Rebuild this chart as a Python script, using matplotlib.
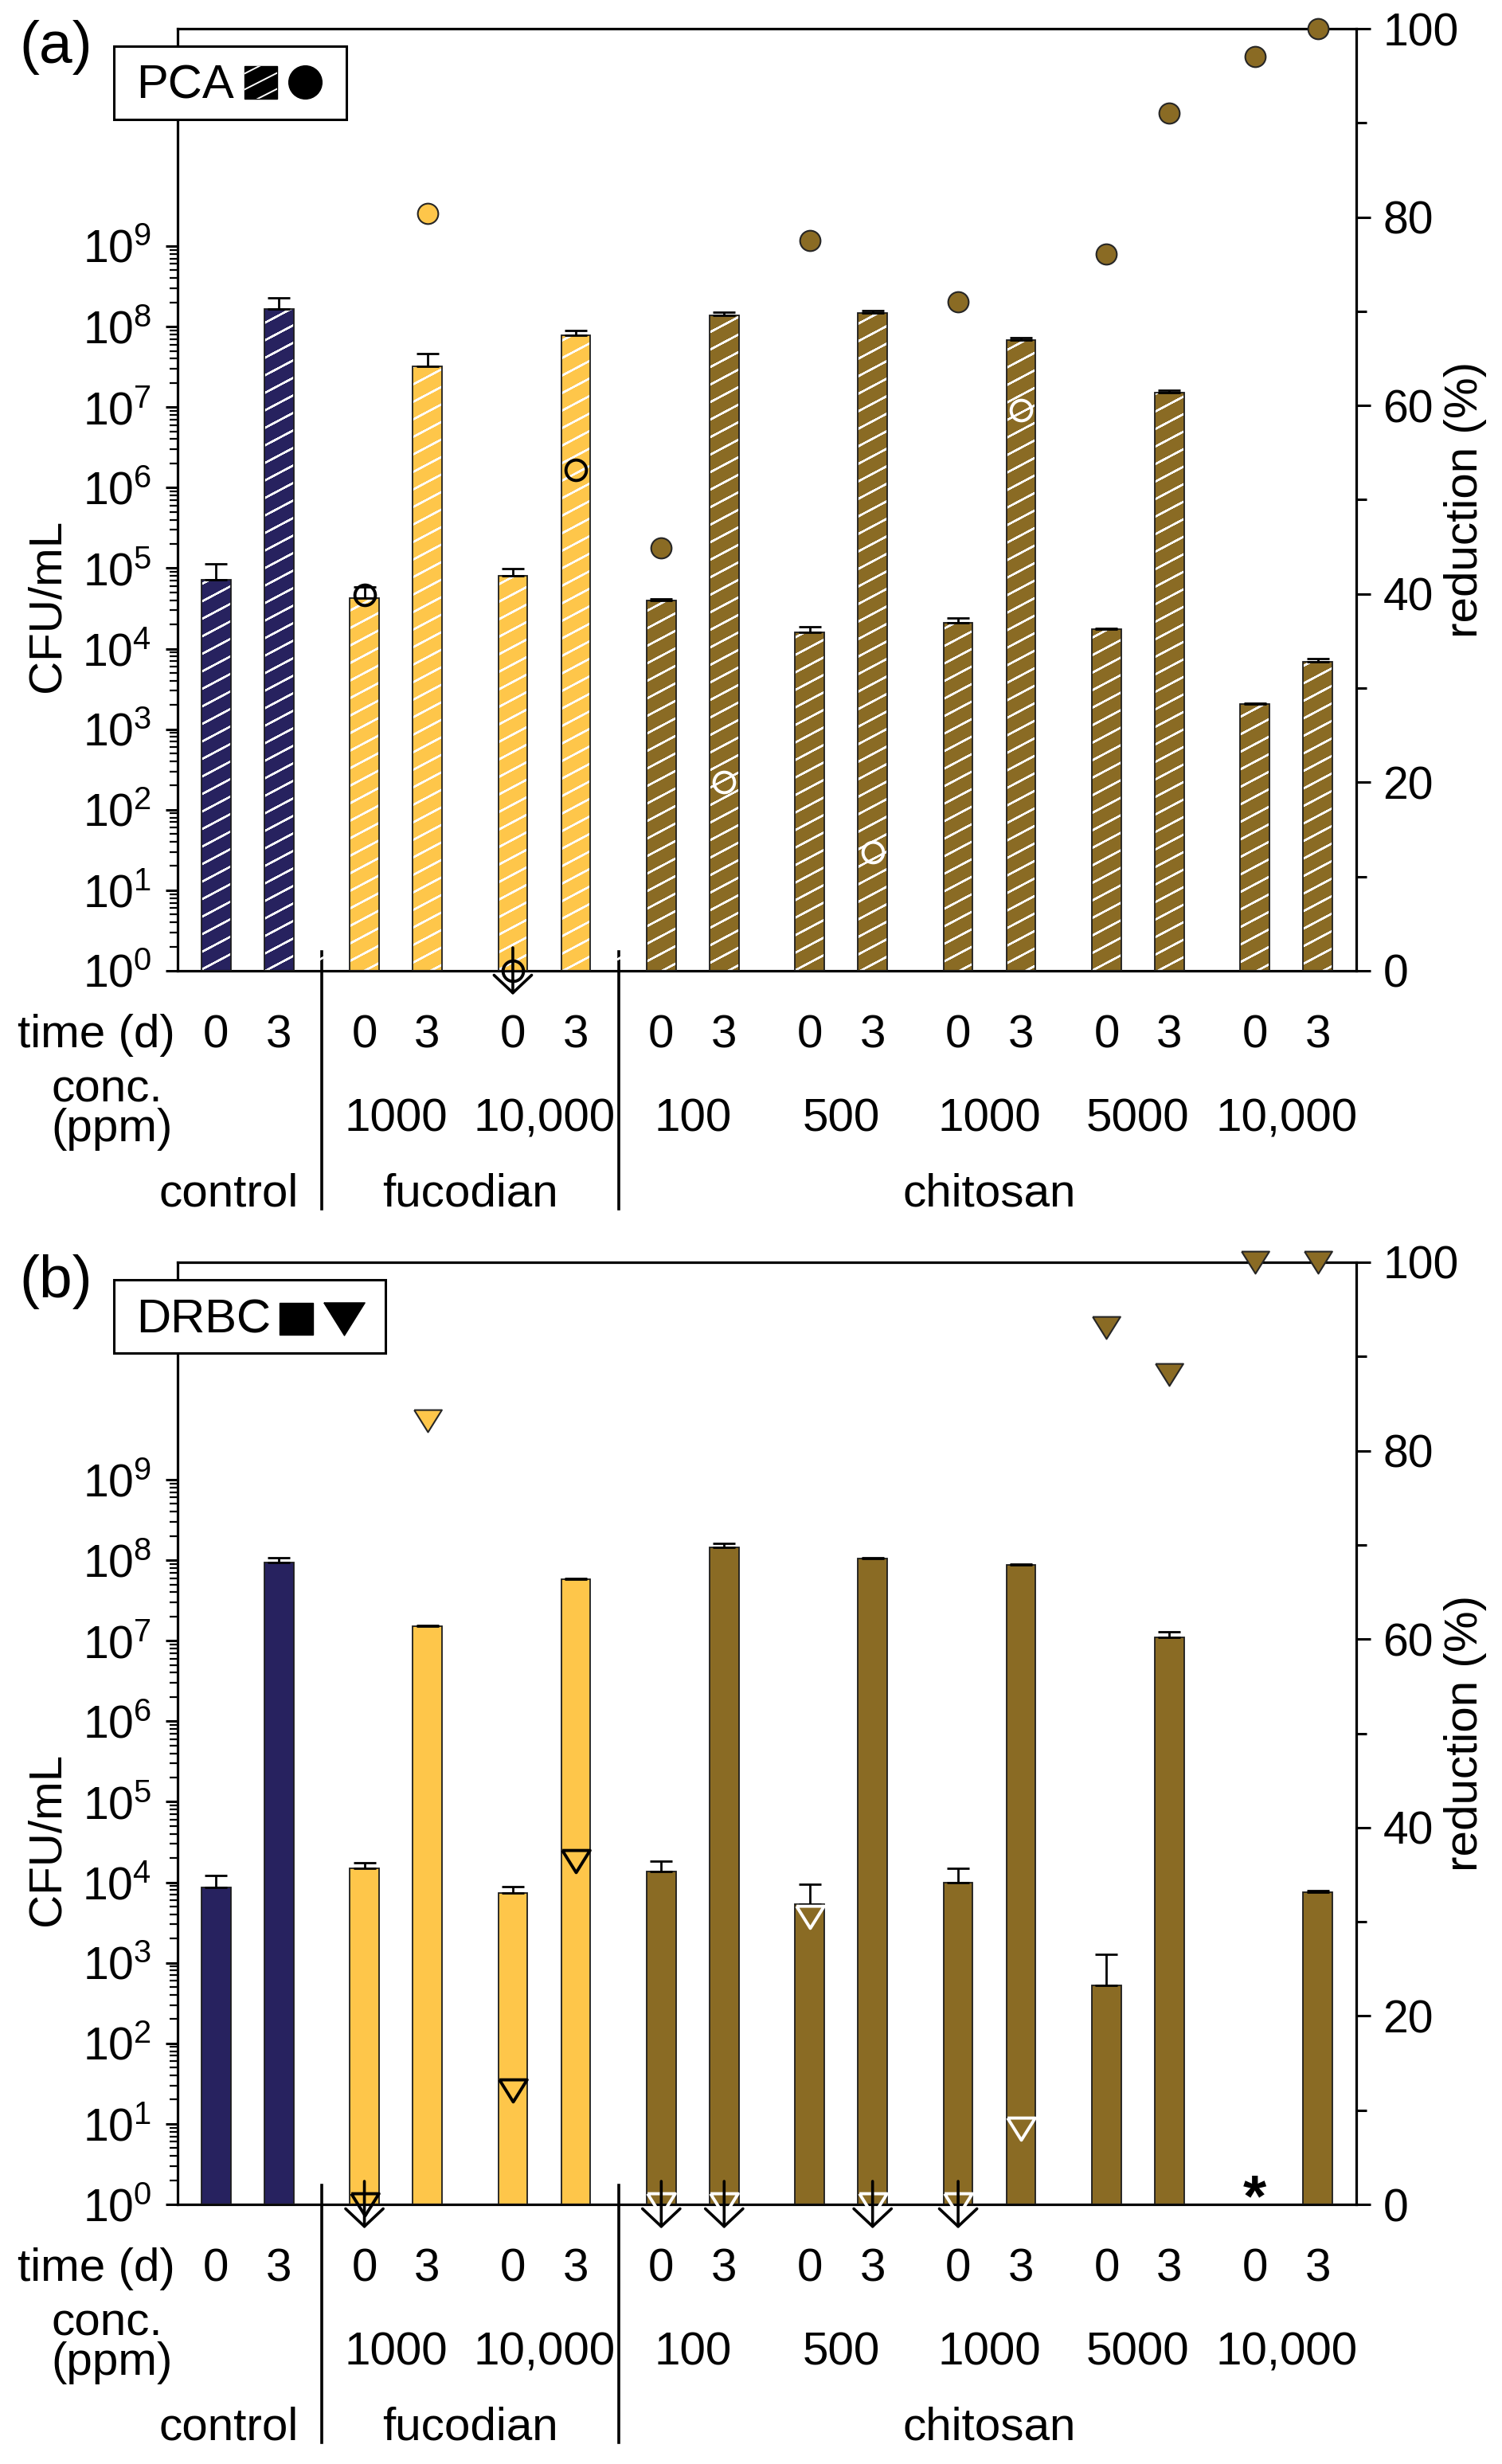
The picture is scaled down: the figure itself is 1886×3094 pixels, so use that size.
import numpy as np
import matplotlib
matplotlib.use("Agg")
import matplotlib.pyplot as plt
import matplotlib.ticker as mticker
import matplotlib.transforms as mtransforms
from matplotlib.collections import LineCollection
from matplotlib.patches import Rectangle
from matplotlib.lines import Line2D
from matplotlib.path import Path

plt.rcParams["font.family"] = ["Liberation Sans", "DejaVu Sans"]
plt.rcParams["mathtext.fontset"] = "custom"
plt.rcParams["mathtext.rm"] = "Liberation Sans"

# -------------------------
# Data
# -------------------------

days = ["0", "3"]
conc_labels = ["", "1000", "10,000", "100", "500", "1000", "5000", "10,000"]
materials = ["control", "fucodian", "fucodian", "chitosan",
             "chitosan", "chitosan", "chitosan", "chitosan"]

# PCA (total count), CFU/mL, order: group x (day 0, day 3)
pca_cfu = [7.1e4, 1.67e8, 4.23e4, 3.18e7, 8.1e4, 7.8e7, 3.98e4, 1.37e8,
           1.61e4, 1.49e8, 2.09e4, 6.8e7, 1.73e4, 1.52e7, 2.07e3, 6.85e3]
pca_sd = [4.3e4, 6.1e7, 1.6e4, 1.47e7, 1.8e4, 1.1e7, 2.2e3, 1.3e7,
          2.7e3, 9.0e6, 3.1e3, 5.5e6, 7.0e2, 1.1e6, 5.0e1, 7.5e2]
pca_red = [np.nan, np.nan, 39.9, 80.4, 0.0, 53.2, 44.9, 20.0,
           77.5, 12.6, 71.0, 59.5, 76.1, 91.0, 97.0, 100.0]

# DRBC (yeast & mould)
drbc_cfu = [8.7e3, 9.3e7, 1.48e4, 1.53e7, 7.4e3, 5.8e7, 1.35e4, 1.44e8,
            5.3e3, 1.04e8, 1.0e4, 8.7e7, 5.2e2, 1.09e7, np.nan, 7.6e3]
drbc_sd = [3.5e3, 1.4e7, 2.6e3, 3.0e5, 1.4e3, 1.0e6, 5.0e3, 1.6e7,
           4.2e3, 3.0e6, 5.0e3, 3.0e6, 7.5e2, 2.1e6, np.nan, 2.0e2]
drbc_red = [np.nan, np.nan, 0.0, 83.2, 12.1, 36.4, 0.0, 0.0,
            30.5, 0.0, 0.0, 8.0, 93.1, 88.1, 100.0, 100.0]

colors = {"control": "#27225f", "fucodian": "#fec64a", "chitosan": "#8a6b24"}
hollow_edge = {"control": "black", "fucodian": "black", "chitosan": "white"}

# -------------------------
# Layout (pixels)
# -------------------------

W, H = 1886, 3094
AX_L, AX_R = 223, 1703
AX_H = 1183
TOPS = [36, 1585]
YTOP = 11.7          # log10 of upper y limit
GAP = 2.36           # distance between concentration groups
BAR_W = 0.465

xs = np.array([g * GAP + d for g in range(len(conc_labels)) for d in range(2)], float)
grp = [g for g in range(len(conc_labels)) for d in range(2)]
bar_cols = [colors[materials[g]] for g in grp]

tri = [(-1, 0.8), (1, 0.8), (0, -0.8), (-1, 0.8)]
tri_marker = Path(tri)

fig = plt.figure(figsize=(W / 100, H / 100), dpi=100)


def fx(px):
    return px / W


def fy(py):
    return 1 - py / H


def draw_panel(top, cfu, sd, red, hatched, mk, tag, medium, box_right):
    ax = fig.add_axes([fx(AX_L), fy(top + AX_H), (AX_R - AX_L) / W, AX_H / H])
    cfu = np.array(cfu, float)
    sd = np.array(sd, float)
    red = np.array(red, float)

    ax.set_yscale("log")
    ax.set_ylim(1, 10 ** YTOP)
    ax.set_xlim(-0.61, 18.13)

    bars = ax.bar(xs, cfu - 1, bottom=1, width=BAR_W, color=bar_cols,
                  linewidth=0, zorder=2)

    if hatched:
        slope = 0.53 * (AX_R - AX_L) / AX_H
        step = 22 / AX_H
        y0s = np.arange(-slope, 1.0, step)
        segs = [[(0, y0), (1, y0 + slope)] for y0 in y0s]
        for b, v in zip(bars, cfu):
            if np.isnan(v):
                continue
            lc = LineCollection(segs, colors="white", linewidths=1.4,
                                transform=ax.transAxes, zorder=2.5)
            lc.set_clip_path(b)
            ax.add_collection(lc)

    ax.bar(xs, cfu - 1, bottom=1, width=BAR_W, fill=False,
           edgecolor="#1c1c1c", linewidth=1.3, zorder=3)

    ax.errorbar(xs, cfu, yerr=[np.zeros_like(sd), sd], fmt="none",
                ecolor="black", elinewidth=2.0, capsize=10, capthick=2.0,
                zorder=4)

    ax.yaxis.set_major_locator(mticker.FixedLocator(10.0 ** np.arange(10)))
    ax.yaxis.set_minor_locator(mticker.FixedLocator(
        [m * 10.0 ** e for e in range(9) for m in range(2, 10)]))
    ax.yaxis.set_major_formatter(mticker.FuncFormatter(
        lambda v, p: r"$\mathregular{10^{%d}}$" % round(np.log10(v))))
    ax.yaxis.set_minor_formatter(mticker.NullFormatter())
    ax.tick_params(axis="y", which="major", direction="out", length=10.5,
                   width=2.2, labelsize=41, pad=13)
    ax.tick_params(axis="y", which="minor", direction="out", length=7,
                   width=1.6)
    ax.tick_params(axis="x", bottom=False, labelbottom=False)
    for s in ["left", "top", "bottom"]:
        ax.spines[s].set_linewidth(2.3)
    ax.spines["right"].set_visible(False)

    ax2 = ax.twinx()
    ax2.set_ylim(0, 100)
    ax2.set_yticks(np.arange(0, 101, 20))
    ax2.set_yticks(np.arange(10, 100, 20), minor=True)
    ax2.tick_params(axis="y", which="major", direction="out", length=13,
                    width=2.2, labelsize=41, pad=11)
    ax2.tick_params(axis="y", which="minor", direction="out", length=9.5,
                    width=2.2)
    for s in ["left", "top", "bottom"]:
        ax2.spines[s].set_visible(False)
    ax2.spines["right"].set_linewidth(2.3)

    # reduction markers: hollow where they sit inside a bar
    bar_frac = np.log10(cfu) / YTOP
    for i in range(len(xs)):
        r = red[i]
        if np.isnan(r):
            continue
        g = materials[grp[i]]
        inside = (not np.isnan(cfu[i])) and (r / 100 <= bar_frac[i] + 0.015)
        if mk == "o":
            marker, ms = "o", 18.5
        else:
            marker, ms = tri_marker, 25
        if inside:
            ax2.plot(xs[i], r, marker=marker, ms=ms, mfc="none",
                     mec=hollow_edge[g], mew=2.8, ls="none",
                     clip_on=False, zorder=5)
        else:
            ax2.plot(xs[i], r, marker=marker, ms=ms, mfc=colors[g],
                     mec="#262626", mew=1.5, ls="none",
                     clip_on=False, zorder=5)
        if r == 0:
            ax2.annotate("", xy=(xs[i], -0.0255), xytext=(xs[i], 0.0245),
                         xycoords=("data", "axes fraction"),
                         textcoords=("data", "axes fraction"),
                         annotation_clip=False,
                         arrowprops=dict(arrowstyle="->,head_length=0.8,head_width=0.85",
                                         mutation_scale=20, lw=2.6,
                                         color="black", shrinkA=0, shrinkB=0),
                         zorder=6)

    # not detected
    for i in range(len(xs)):
        if np.isnan(cfu[i]):
            ax2.text(xs[i], -1.2, "*", ha="center", va="baseline",
                     fontsize=54, fontweight="bold", zorder=6)

    # category table below the axis
    trans = mtransforms.blended_transform_factory(ax.transData, ax.transAxes)
    for x, g in zip(xs, range(len(xs))):
        ax.text(x, -0.0812, days[g % 2], transform=trans, ha="center",
                va="baseline", fontsize=42)
    ax.text(-0.002, -0.0812, "time (d)", transform=ax.transAxes, ha="right",
            va="baseline", fontsize=42)
    ax.text(-0.1074, -0.139, "conc.", transform=ax.transAxes, ha="left",
            va="baseline", fontsize=42)
    ax.text(-0.1074, -0.181, "(ppm)", transform=ax.transAxes, ha="left",
            va="baseline", fontsize=42)
    for g, lab in enumerate(conc_labels):
        if lab:
            ax.text(g * GAP + 0.5, -0.170, lab, transform=trans, ha="center",
                    va="baseline", fontsize=42)

    names = []
    for m in materials:
        if m not in names:
            names.append(m)
    for m in names:
        gx = [xs[i] for i in range(len(xs)) if materials[grp[i]] == m]
        cx = np.mean(gx)
        if m == "control":
            cx -= 0.3
        ax.text(cx, -0.2494, m, transform=trans, ha="center",
                va="baseline", fontsize=42)
    for g in range(1, len(materials)):
        if materials[g] != materials[g - 1]:
            xsep = ((g - 1) * GAP + 1 + g * GAP) / 2
            ax.plot([xsep, xsep], [0.0203, -0.253], transform=trans,
                    color="black", lw=2.6, clip_on=False)

    ax.text(-0.1105, 0.388, "CFU/mL", transform=ax.transAxes, rotation=90,
            ha="center", va="center", fontsize=42)
    ax.text(1.0926, 0.5, "reduction (%)", transform=ax.transAxes,
            rotation=90, ha="center", va="center", fontsize=42)

    # panel letter and medium box
    fig.text(fx(70), fy(top + 24), tag, ha="center", va="center", fontsize=54)
    box = Rectangle((fx(143), fy(top + 114)), (box_right - 143) / W, 92 / H,
                    transform=fig.transFigure, facecolor="white",
                    edgecolor="black", lw=2.2, zorder=10)
    fig.add_artist(box)
    fig.text(fx(171), fy(top + 88), medium, ha="left", va="baseline",
             fontsize=43, zorder=11)
    return ax, ax2


draw_panel(TOPS[0], pca_cfu, pca_sd, pca_red, True, "o", "(a)", "PCA", 435)
draw_panel(TOPS[1], drbc_cfu, drbc_sd, drbc_red, False, "v", "(b)", "DRBC", 484)

# legend symbols (a): hatched square + circle
t = TOPS[0]
sq = Rectangle((fx(307), fy(t + 88)), 41 / W, 41 / H, transform=fig.transFigure,
               facecolor="black", edgecolor="black", lw=1, zorder=12)
fig.add_artist(sq)
segs = []
for off in [60, 80, 100]:
    segs.append([(fx(300), fy(t + off)), (fx(355), fy(t + off - 28))])
lc = LineCollection(segs, colors="white", linewidths=1.4,
                    transform=fig.transFigure, zorder=13)
lc.set_clip_path(sq)
fig.add_artist(lc)
fig.add_artist(Line2D([fx(383)], [fy(t + 67)], marker="o", ms=30,
                      color="black", transform=fig.transFigure, zorder=12))

# legend symbols (b): square + triangle
t = TOPS[1]
fig.add_artist(Rectangle((fx(351), fy(t + 91)), 42 / W, 40 / H,
                         transform=fig.transFigure, facecolor="black",
                         edgecolor="black", lw=1, zorder=12))
fig.add_artist(Line2D([fx(432)], [fy(t + 71)], marker=tri_marker, ms=37,
                      color="black", transform=fig.transFigure, zorder=12))

fig.savefig("out.png", dpi=100)
